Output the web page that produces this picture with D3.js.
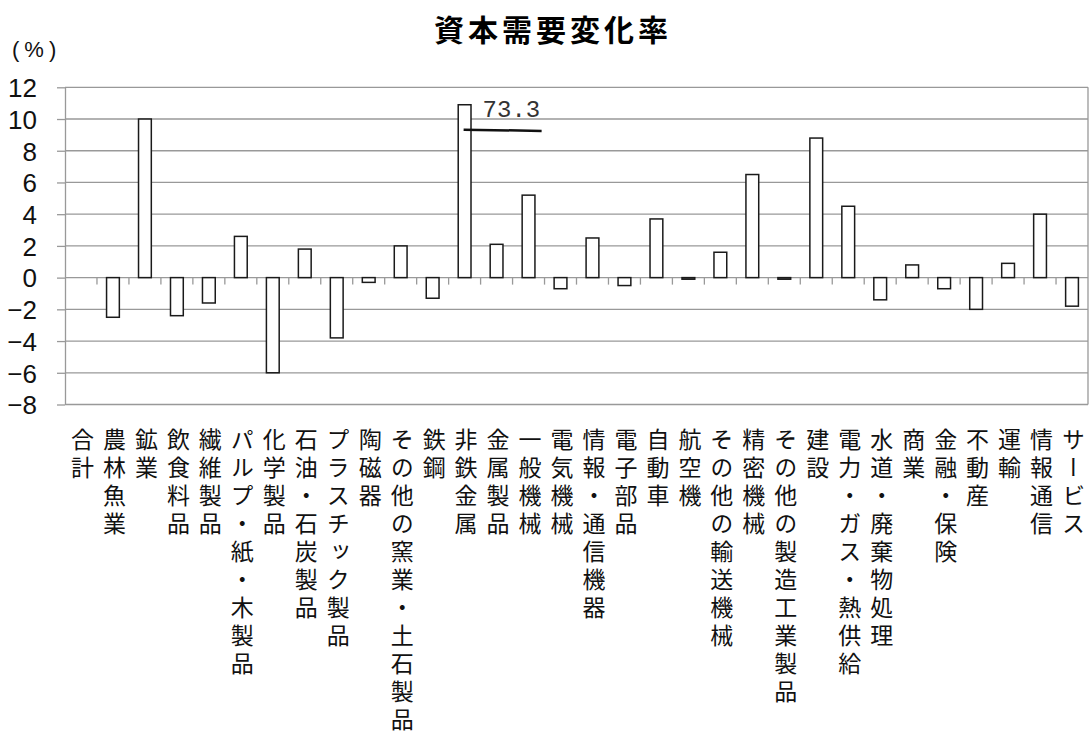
<!DOCTYPE html>
<html lang="ja">

<head>
    <meta charset="UTF-8">
    <style type="text/css">
        body {
            margin: 0;
            background: #fff;
        }

        .title {
            font-family: "Noto Sans CJK JP", sans-serif;
            font-weight: bold;
            font-size: 30px;
            letter-spacing: 4px;
            text-anchor: middle;
        }

        .unit {
            font-family: "Liberation Sans", sans-serif;
            font-size: 22px;
            letter-spacing: 5px;
            fill: #111;
        }

        .grid line {
            stroke: #999;
            stroke-width: 1.3;
        }

        .yAxis path,
        .yAxis line,
        .xTicks line,
        .border {
            stroke: #999;
            stroke-width: 1.3;
            fill: none;
        }

        .yAxis text {
            font-family: "Liberation Sans Narrow", "Liberation Sans", sans-serif;
            font-size: 26px;
            fill: #111;
        }

        .bar rect {
            fill: #fff;
            stroke: #1a1a1a;
            stroke-width: 1.5;
        }

        .catLabel {
            font-family: "Noto Sans CJK JP", sans-serif;
            font-size: 23px;
            writing-mode: vertical-rl;
            text-orientation: upright;
            letter-spacing: 5px;
            fill: #111;
        }

        .note text {
            font-family: "Liberation Mono", monospace;
            font-size: 24px;
            fill: #333;
        }
    </style>
</head>

<body>
    <div class='main'></div>

    <script src="https://cdnjs.cloudflare.com/ajax/libs/d3/7.8.5/d3.min.js"></script>
    <script type="text/javascript">

        // categories (industries)
        var categories = ["合計", "農林魚業", "鉱業", "飲食料品", "繊維製品", "パルプ・紙・木製品",
            "化学製品", "石油・石炭製品", "プラスチック製品", "陶磁器", "その他の窯業・土石製品",
            "鉄鋼", "非鉄金属", "金属製品", "一般機械", "電気機械", "情報・通信機器", "電子部品",
            "自動車", "航空機", "その他の輸送機械", "精密機械", "その他の製造工業製品", "建設",
            "電力・ガス・熱供給", "水道・廃棄物処理", "商業", "金融・保険", "不動産", "運輸",
            "情報通信", "サービス"];

        // change rate of capital demand (%)
        var values = [null, -2.5, 10.0, -2.4, -1.6, 2.6, -6.0, 1.8, -3.8, -0.3, 2.0,
            -1.3, 73.3, 2.1, 5.2, -0.7, 2.5, -0.5, 3.7, -0.1, 1.6, 6.5, -0.1, 8.8,
            4.5, -1.4, 0.8, -0.7, -2.0, 0.9, 4.0, -1.8];

        var yTicks = [-8, -6, -4, -2, 0, 2, 4, 6, 8, 10, 12];

        // bars taller than this are cut off and labelled
        var cutAt = 10.9;

        var width = 1089, height = 740;
        var plot = { left: 65, right: 1088, top: 87.3, bottom: 404.5 };

        var svg = d3.select(".main").append("svg")
            .attr("width", width)
            .attr("height", height);

        var x = d3.scaleBand()
            .domain(categories)
            .range([plot.left, plot.right])
            .paddingInner(0.6)
            .paddingOuter(0.3);

        var y = d3.scaleLinear()
            .domain([-8, 12])
            .range([plot.bottom, plot.top]);

        var step = x.step();
        function center(c) { return x(c) + x.bandwidth() / 2; }

        // title + unit
        svg.append("text")
            .attr("class", "title")
            .attr("x", 553)
            .attr("y", 41)
            .text("資本需要変化率");

        svg.append("text")
            .attr("class", "unit")
            .attr("x", 12)
            .attr("y", 57)
            .text("(%)");

        // gridlines
        svg.append("g")
            .attr("class", "grid")
            .selectAll("line")
            .data(yTicks)
            .enter().append("line")
            .attr("x1", plot.left)
            .attr("x2", plot.right)
            .attr("y1", function (d) { return y(d); })
            .attr("y2", function (d) { return y(d); });

        svg.append("line")
            .attr("class", "border")
            .attr("x1", plot.right).attr("x2", plot.right)
            .attr("y1", y(12)).attr("y2", y(-8));

        var yAxis = d3.axisLeft(y)
            .tickValues(yTicks)
            .tickSize(8)
            .tickSizeOuter(0)
            .tickPadding(20);

        svg.append("g")
            .attr("class", "yAxis")
            .attr("transform", "translate(" + plot.left + ",0)")
            .call(yAxis)
            .selectAll("text")
            .attr("dy", "0.36em");

        // category ticks hanging below the zero line
        svg.append("g")
            .attr("class", "xTicks")
            .selectAll("line")
            .data(categories.slice(1))
            .enter().append("line")
            .attr("x1", function (d) { return center(d) - step / 2; })
            .attr("x2", function (d) { return center(d) - step / 2; })
            .attr("y1", y(0))
            .attr("y2", y(0) + 7);

        // bars
        var rows = categories.map(function (c, i) { return { name: c, value: values[i] }; })
            .filter(function (d) { return d.value !== null; });

        svg.append("g")
            .attr("class", "bar")
            .selectAll("rect")
            .data(rows)
            .enter().append("rect")
            .attr("x", function (d) { return x(d.name); })
            .attr("width", x.bandwidth())
            .attr("y", function (d) { return y(Math.max(0, Math.min(d.value, cutAt))); })
            .attr("height", function (d) {
                return Math.abs(y(Math.min(d.value, cutAt)) - y(0));
            });

        // note for the cut bar
        var big = rows.filter(function (d) { return d.value > cutAt; });
        var note = svg.append("g").attr("class", "note");

        note.selectAll("line")
            .data(big)
            .enter().append("line")
            .attr("x1", function (d) { return center(d.name) - 1; })
            .attr("x2", function (d) { return center(d.name) + 77; })
            .attr("y1", y(9.33))
            .attr("y2", y(9.25))
            .attr("stroke", "#111")
            .attr("stroke-width", 2.5);

        note.selectAll("text")
            .data(big)
            .enter().append("text")
            .attr("x", function (d) { return center(d.name) + 18; })
            .attr("y", y(10.15))
            .text(function (d) { return d.value.toFixed(1); });

        // vertical category labels
        svg.append("g")
            .selectAll("text")
            .data(categories)
            .enter().append("text")
            .attr("class", "catLabel")
            .attr("x", function (d) { return center(d) + 1.5; })
            .attr("y", 428)
            .text(function (d) { return d; });

    </script>
</body>

</html>
